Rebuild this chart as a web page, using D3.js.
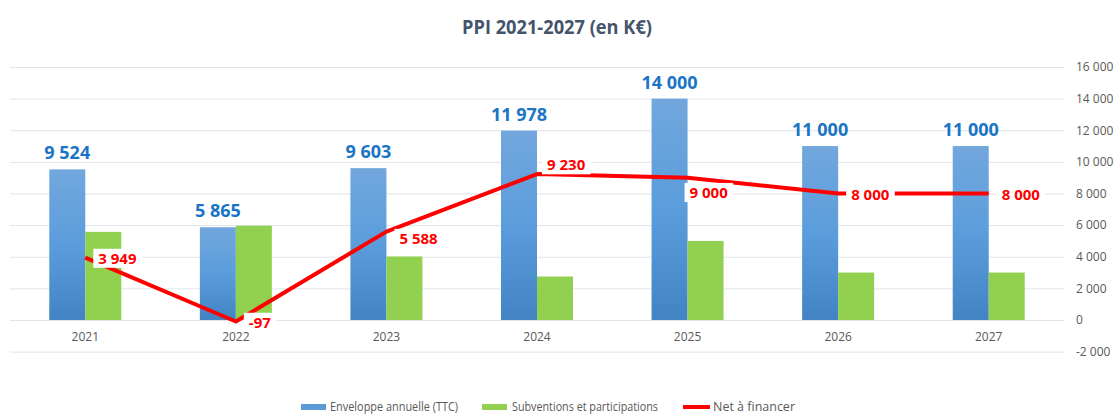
<!DOCTYPE html>
<html><head><meta charset="utf-8">
<script src="https://cdn.jsdelivr.net/npm/d3@7"></script>
<style>html,body{margin:0;padding:0;background:#fff;overflow:hidden}</style>
</head><body>
<svg id="c" width="1115" height="415"></svg>
<script>
const years = ["2021","2022","2023","2024","2025","2026","2027"];
const enveloppe = [9524, 5865, 9603, 11978, 14000, 11000, 11000];
const subventions = [5575, 5962, 4015, 2748, 5000, 3000, 3000];
const netFinancer = [3949, -97, 5588, 9230, 9000, 8000, 8000];
const yTicks = [-2000, 0, 2000, 4000, 6000, 8000, 10000, 12000, 14000, 16000];
const netLabelPlacement = ["right","right","rightLow","above","below","right","right"];

const fmt = v => {
  const s = Math.abs(v).toString().replace(/\B(?=(\d{3})+(?!\d))/g, " ");
  return (v < 0 ? "-" : "") + s;
};

const svg = d3.select("#c");
const font = "'Open Sans', 'DejaVu Sans', sans-serif";

const x = d3.scaleBand().domain(years).range([10, 1064]);
const y = d3.scaleLinear().domain([-2000, 16000]).range([351.6, 67]);
const cx = yr => x(yr) + x.bandwidth() / 2;
const barW = 36;

// gradient
const defs = svg.append("defs");
const g1 = defs.append("linearGradient").attr("id","blueGrad").attr("x1",0).attr("y1",0).attr("x2",0).attr("y2",1);
g1.append("stop").attr("offset","0%").attr("stop-color","#72a7dd");
g1.append("stop").attr("offset","50%").attr("stop-color","#5b9ddc");
g1.append("stop").attr("offset","100%").attr("stop-color","#4283c4");

// title
svg.append("text").attr("x", 557).attr("y", 34).attr("text-anchor","middle")
  .attr("font-family", font).attr("font-weight", 700).attr("font-size", 19)
  .attr("fill", "#44546a").attr("textLength", 190).attr("lengthAdjust","spacingAndGlyphs")
  .text("PPI 2021-2027 (en K€)");

// gridlines
const axisR = d3.axisRight(y).tickValues(yTicks).tickSize(1054).tickFormat(fmt);
const ga = svg.append("g").attr("transform", "translate(10,0)").call(axisR);
ga.select(".domain").remove();
ga.selectAll(".tick line").attr("stroke", "#dfe4ea").attr("stroke-width", 1);
ga.selectAll(".tick text").attr("x", 1066).attr("font-family", font).attr("font-size", 12)
  .attr("fill", "#595959").attr("text-anchor","start");

// bars
svg.append("g").selectAll("rect").data(years).join("rect")
  .attr("x", d => cx(d) - barW).attr("width", barW)
  .attr("y", (d,i) => y(enveloppe[i])).attr("height", (d,i) => y(0) - y(enveloppe[i]))
  .attr("fill", "url(#blueGrad)");
svg.append("g").selectAll("rect").data(years).join("rect")
  .attr("x", d => cx(d)).attr("width", barW)
  .attr("y", (d,i) => y(subventions[i])).attr("height", (d,i) => y(0) - y(subventions[i]))
  .attr("fill", "#92d050");

// blue labels
svg.append("g").selectAll("text").data(years).join("text")
  .attr("x", d => cx(d) - barW/2).attr("y", (d,i) => y(enveloppe[i]) - 10)
  .attr("text-anchor","middle").attr("font-family", font).attr("font-weight", 700)
  .attr("font-size", 18).attr("fill", "#1a75c4")
  .text((d,i) => fmt(enveloppe[i]));

// line
const line = d3.line().x((d,i) => cx(years[i])).y(d => y(d));
svg.append("path").datum(netFinancer).attr("d", line).attr("fill","none")
  .attr("stroke", "#ff0000").attr("stroke-width", 4).attr("stroke-linejoin","round");

// net labels with white boxes
const off = {right:[13,1], rightLow:[13,7], above:[10,-9], below:[2,15]};
const lg = svg.append("g");
netFinancer.forEach((v,i) => {
  const o = off[netLabelPlacement[i]];
  const px = cx(years[i]) + o[0], py = y(v) + o[1];
  const t = lg.append("text").attr("x", px).attr("y", py).attr("dy","0.35em")
    .attr("font-family", font).attr("font-weight", 700).attr("font-size", 15)
    .attr("fill", "#ff0000").text(fmt(v));
  const bb = t.node().getBBox();
  lg.insert("rect", "text").attr("x", bb.x - 5).attr("y", bb.y + 1)
    .attr("width", bb.width + 10).attr("height", bb.height - 1).attr("fill", "#fff");
});

// x axis labels
const axB = d3.axisBottom(x).tickSize(0).tickPadding(0);
const gb = svg.append("g").attr("transform", `translate(0,${y(0)+21})`).call(axB);
gb.select(".domain").remove();
gb.selectAll(".tick text").attr("font-family", font).attr("font-size", 12).attr("fill", "#595959").attr("dy","0");

// legend
const leg = svg.append("g").attr("font-family", font).attr("font-size", 12.5).attr("fill", "#595959");
leg.append("rect").attr("x", 301).attr("y", 404).attr("width", 25).attr("height", 6).attr("fill", "#5b9bd5");
leg.append("text").attr("x", 330).attr("y", 411).attr("textLength", 128).attr("lengthAdjust","spacingAndGlyphs").text("Enveloppe annuelle (TTC)");
leg.append("rect").attr("x", 482).attr("y", 404).attr("width", 25).attr("height", 6).attr("fill", "#92d050");
leg.append("text").attr("x", 512).attr("y", 411).attr("textLength", 146).attr("lengthAdjust","spacingAndGlyphs").text("Subventions et participations");
leg.append("rect").attr("x", 683).attr("y", 405).attr("width", 27).attr("height", 4).attr("fill", "#ff0000");
leg.append("text").attr("x", 713).attr("y", 411).attr("textLength", 82).attr("lengthAdjust","spacingAndGlyphs").text("Net à financer");
</script>
</body></html>
